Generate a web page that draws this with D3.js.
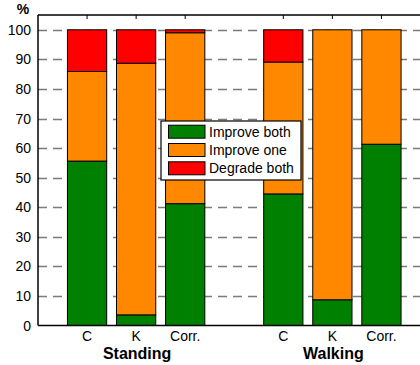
<!DOCTYPE html>
<html>
<head>
<meta charset="utf-8">
<script src="https://d3js.org/d3.v7.min.js"></script>
<style>
  body { margin: 0; background: #fff; }
  text { font-family: "Liberation Sans", Arial, sans-serif; }
</style>
</head>
<body>
<script>
// bar slots 1..7, slot 4 is the empty gap between the two groups
var categories = ["C", "K", "Corr.", "", "C", "K", "Corr."];
var improveBoth = [55.6, 3.6, 41.2, 0, 44.5, 8.7, 61.3];
var improveOne = [30.3, 85.1, 57.8, 0, 44.6, 91.3, 38.7];
var degradeBoth = [14.1, 11.3, 1.0, 0, 10.9, 0, 0];
var groups = ["Standing", "Walking"];
var groupSlots = [2, 6];
var seriesNames = ["Improve both", "Improve one", "Degrade both"];
var seriesColors = ["#008000", "#ff8800", "#ff0000"];
var yTicks = d3.range(0, 101, 10);

var W = 420, H = 365;
var plotLeft = 38, plotTop = 15, plotBottom = 325.5;

var svg = d3.select("body").append("svg")
  .attr("width", W).attr("height", H);

var x = d3.scaleLinear().domain([0, 8]).range([plotLeft, 430.5]);
var y = d3.scaleLinear().domain([0, 105]).range([plotBottom, plotTop]);
var barW = (x(1) - x(0)) * 0.8;

var rows = categories.map(function(c, i) {
  return { slot: i + 1, cat: c, a: improveBoth[i], b: improveOne[i], c: degradeBoth[i] };
});
var stacked = d3.stack().keys(["a", "b", "c"])(rows);

// dashed grid
svg.append("g").selectAll("line").data(yTicks.filter(function(d){ return d > 0; }))
  .join("line")
    .attr("x1", plotLeft).attr("x2", W)
    .attr("y1", function(d){ return Math.round(y(d)) + 0.5; })
    .attr("y2", function(d){ return Math.round(y(d)) + 0.5; })
    .attr("stroke", "#7a7a7a").attr("stroke-width", 1.5)
    .attr("stroke-dasharray", "9,6");

// bars
svg.append("g").selectAll("g").data(stacked).join("g")
    .attr("fill", function(d, i){ return seriesColors[i]; })
  .selectAll("rect").data(function(d){ return d; }).join("rect")
    .attr("x", function(d){ return x(d.data.slot) - barW / 2; })
    .attr("y", function(d){ return y(d[1]); })
    .attr("width", barW)
    .attr("height", function(d){ return y(d[0]) - y(d[1]); })
    .attr("stroke", "#000").attr("stroke-width", 1);

// frame
var frame = svg.append("g").attr("stroke", "#000").attr("stroke-width", 1.5).attr("fill", "none");
frame.append("line").attr("x1", plotLeft).attr("x2", W).attr("y1", plotTop).attr("y2", plotTop);
frame.append("line").attr("x1", plotLeft).attr("x2", W).attr("y1", plotBottom).attr("y2", plotBottom);
frame.append("line").attr("x1", plotLeft).attr("x2", plotLeft).attr("y1", plotTop).attr("y2", plotBottom);

// top ticks
var ticked = rows.filter(function(d){ return d.cat !== ""; });
svg.append("g").selectAll("line").data(ticked).join("line")
    .attr("x1", function(d){ return x(d.slot); })
    .attr("x2", function(d){ return x(d.slot); })
    .attr("y1", plotTop).attr("y2", plotTop + 4)
    .attr("stroke", "#000");

// y axis labels
svg.append("g").selectAll("text").data(yTicks).join("text")
    .attr("x", 31).attr("y", function(d){ return y(d); })
    .attr("dy", "0.36em").attr("text-anchor", "end")
    .style("font-size", "14px").text(function(d){ return d; });
svg.append("text").attr("x", 23).attr("y", 14).attr("text-anchor", "middle")
    .style("font-size", "14px").style("font-weight", "bold").text("%");

// x labels
svg.append("g").selectAll("text").data(ticked).join("text")
    .attr("x", function(d){ return x(d.slot); }).attr("y", 341)
    .attr("text-anchor", "middle").style("font-size", "14px")
    .text(function(d){ return d.cat; });
svg.append("g").selectAll("text").data(groups).join("text")
    .attr("x", function(d, i){ return x(groupSlots[i]) + 1; }).attr("y", 359)
    .attr("text-anchor", "middle").style("font-size", "16px").style("font-weight", "bold")
    .text(function(d){ return d; });

// legend
var lg = svg.append("g").attr("transform", "translate(161,121)");
lg.append("rect").attr("width", 140).attr("height", 59)
    .attr("fill", "#fff").attr("stroke", "#000").attr("stroke-width", 1.2);
var item = lg.selectAll("g").data(seriesNames).join("g")
    .attr("transform", function(d, i){ return "translate(0," + (10.7 + i * 18.3) + ")"; });
item.append("rect").attr("x", 7.5).attr("y", -6.5).attr("width", 36.5).attr("height", 13)
    .attr("fill", function(d, i){ return seriesColors[i]; })
    .attr("stroke", "#000").attr("stroke-width", 1);
item.append("text").attr("x", 48).attr("dy", "0.36em")
    .style("font-size", "14px").text(function(d){ return d; });
</script>
</body>
</html>
